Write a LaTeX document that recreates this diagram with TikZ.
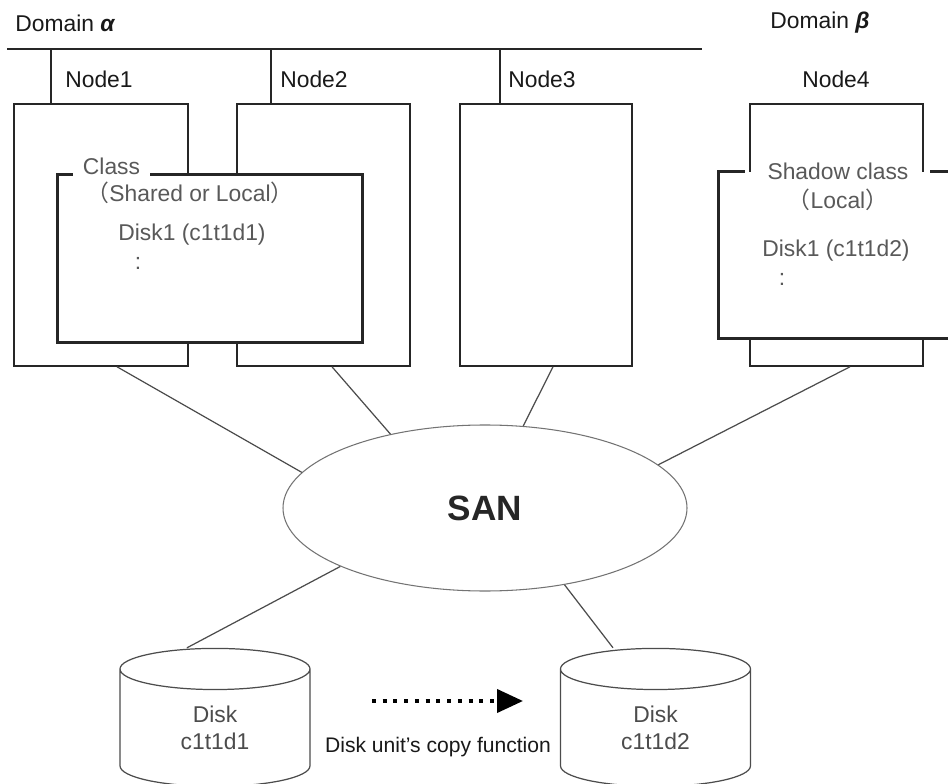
\documentclass[tikz,border=0pt]{standalone}
\usepackage{fontspec}
\setmainfont{Liberation Sans}
\newfontfamily\cjk{Noto Sans CJK JP}
\usetikzlibrary{calc,shapes.geometric,arrows.meta}

\begin{document}
\begin{tikzpicture}[x=0.02cm, y=-0.02cm,
  every node/.style={inner sep=0pt, text=black!90, font=\fontsize{13}{15.6}\selectfont},
  nodebox/.style={draw=black!85, line width=0.9pt, minimum width=173*\pxu, minimum height=262*\pxu},
  busline/.style={draw=black!85, line width=0.9pt},
  classline/.style={draw=black!85, line width=1.5pt},
  classtext/.style={text=black!65},
  link/.style={draw=black!70, line width=0.7pt},
  disk/.style={cylinder, shape border rotate=90, aspect=0.6, draw=black!70, line width=0.7pt, fill=white,
    minimum width=190*\pxu, minimum height=138*\pxu, align=center, text=black!70}]

\def\pxu{0.02cm}
\def\boxmid{235}

\useasboundingbox (0,0) rectangle (948,784);
\clip (0,0) rectangle (948,784);

\coordinate (bus west) at (7,49);
\coordinate (bus east) at (702,49);
\draw[busline] (bus west) -- (bus east);

\node (domA) [anchor=west] at (15,23) {Domain {\bfseries\itshape α}};
\node (domB) at (820,23) {Domain {\bfseries\itshape β}};

\node (node1) [nodebox, minimum width=174*\pxu] at (101,\boxmid) {};
\node (node2) [nodebox] at (323.5,\boxmid) {};
\node (node3) [nodebox, minimum width=172*\pxu] at (546,\boxmid) {};
\node (node4) [nodebox] at (836.5,\boxmid) {};

\foreach \n/\dx in {node1/38, node2/35, node3/41}
  \draw[busline] ($(\n.north west)+(\dx,0)$) -- ++(0,-55);

\node (lab1) at (99,79) {Node1};
\node (lab2) at (314,79) {Node2};
\node (lab3) at (542,79) {Node3};
\node (lab4) at (836,79) {Node4};

\node (class) [fill=white, minimum width=304*\pxu, minimum height=167*\pxu] at (210,258.5) {};
\draw[classline] ($(class.north west)+(15,0)$) -- (class.north west) -- (class.south west)
  -- (class.south east) -- (class.north east) -- ($(class.north west)+(92,0)$);
\node (classlab) [classtext] at (111.5,166) {Class};
\node (classkind) [classtext] at (190,193) {{\cjk （}Shared or Local{\cjk ）}};
\node (classdisk) [classtext] at (192,235) {Disk1 (c1t1d1)};
\node (classdots) [classtext] at (138,263) {:};

\node (shadow) [fill=white, minimum width=241*\pxu, minimum height=166*\pxu] at (839.5,255) {};
\draw[classline] ($(shadow.north west)+(26,0)$) -- (shadow.north west) -- (shadow.south west)
  -- (shadow.south east) -- (shadow.north east) -- ($(shadow.north west)+(211,0)$);
\node (shadowlab) [classtext] at (838,171) {Shadow class};
\node (shadowkind) [classtext] at (838,200) {{\cjk （}Local{\cjk ）}};
\node (shadowdisk) [classtext] at (836,251) {Disk1 (c1t1d2)};
\node (shadowdots) [classtext] at (782,279) {:};

\node (san) [ellipse, draw=black!55, line width=0.6pt, minimum width=404*\pxu, minimum height=166*\pxu,
  font=\fontsize{20}{24}\selectfont\bfseries, text=black!85] at (485,508) {SAN};

\node (disk1) [disk] at (215,728) {Disk\\c1t1d1};
\node (disk2) [disk] at (655.5,728) {Disk\\c1t1d2};

\draw[link] ($(node1.south)+(16,0)$) -- (san.169.8);
\draw[link] ($(node2.south)+(8.5,0)$) -- (san.142.3);
\draw[link] ($(node3.south)+(7,0)$) -- (san.65.1);
\draw[link] ($(node4.south)+(13.5,0)$) -- (san.14);
\draw[link] (san.202.8) -- ($(disk1.north)+(-28,0)$);
\draw[link] (san.316.8) -- ($(disk2.north)+(-42.5,0)$);

\coordinate (copy from) at (372,701);
\coordinate (copy to) at (523,701);
\draw[line width=0.08cm, dash pattern=on 0.08cm off 0.135cm, -{Triangle[length=0.52cm 0, width=0.46cm 0]}]
  (copy from) -- (copy to);
\node (copylab) [font=\fontsize{12}{14.4}\selectfont] at (438,747) {Disk unit's copy function};
\end{tikzpicture}
\end{document}
